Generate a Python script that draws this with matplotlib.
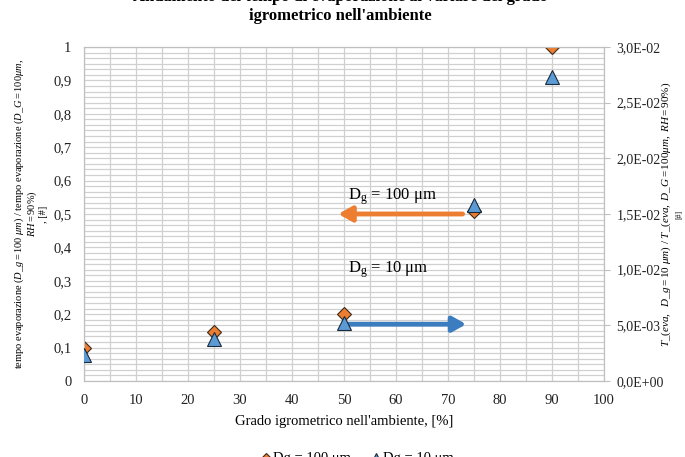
import matplotlib
matplotlib.use("Agg")
import matplotlib.pyplot as plt
from matplotlib.ticker import MultipleLocator, FuncFormatter
import numpy as np

plt.rcParams['font.family'] = ['Liberation Serif', 'DejaVu Serif']
plt.rcParams['mathtext.fontset'] = 'custom'
plt.rcParams['mathtext.rm'] = 'Liberation Serif'
plt.rcParams['mathtext.it'] = 'Liberation Serif:italic'

# data
rh = [0, 25, 50, 75, 90]
ratio_100 = [0.10, 0.147, 0.20, 0.51, 1.0]             # left axis
ratio_10 = [0.0023, 0.0038, 0.00525, 0.0158, 0.0273]   # right axis

orange = '#ED7D31'
blue = '#5B9BD5'
grid_c = '#d0d0d0'

fig = plt.figure(figsize=(6.85, 4.57), dpi=100)
ax = fig.add_axes([0.1226, 0.1663, 0.7592, 0.7309])
ax2 = ax.twinx()

ax.plot(rh, ratio_100, 'D', ms=7.5, color=orange, mec='#3a2a1a', mew=0.8,
        label='Dg = 100 μm', zorder=3)
ax2.plot(rh, ratio_10, '^', ms=10, color=blue, mec='#1a2a3a', mew=0.8,
         label='Dg = 10 μm', zorder=3)

ax.set_xlim(0, 100)
ax.set_ylim(0, 1)
ax2.set_ylim(0, 0.03)

ax.xaxis.set_major_locator(MultipleLocator(10))
ax.xaxis.set_minor_locator(MultipleLocator(5))
ax.yaxis.set_major_locator(MultipleLocator(0.1))
ax.yaxis.set_minor_locator(MultipleLocator(1 / 60))
ax2.yaxis.set_major_locator(MultipleLocator(0.005))

ax.grid(True, which='both', color=grid_c, lw=0.9)
ax.set_axisbelow(True)

ax.yaxis.set_major_formatter(FuncFormatter(lambda v, p: f"{v:g}".replace('.', ',')))
ax2.yaxis.set_major_formatter(FuncFormatter(lambda v, p: f"{v:.1E}".replace('.', ',')))

for a in (ax, ax2):
    for s in a.spines.values():
        s.set_color('#bfbfbf')
    a.tick_params(which='major', labelsize=10.5, color='#bfbfbf', length=4,
                  colors='#222222')
    a.tick_params(which='minor', length=0)
ax.tick_params(axis='x', length=0, pad=9)
ax.tick_params(axis='y', length=0, pad=9)
ax2.tick_params(axis='y', pad=5, labelsize=10)

ax.set_xlabel("Grado igrometrico nell'ambiente, [%]", fontsize=10.5, labelpad=6)
ax.set_ylabel(r"tempo evaporazione ($\mathit{D\_g{=}100\ \mu m}$) / tempo evaporazione ($\mathit{D\_G{=}100\mu m,}$" "\n"
              r"$\mathit{RH{=}90\%)}$" "\n" ", [#]",
              fontsize=7.5, linespacing=1.0)
ax.yaxis.set_label_coords(-0.069, 0.5)
ax2.set_ylabel(r"$\mathit{T\_(eva,\ \ D\_g{=}10\ \mu m)\ /\ T\_(eva,\ D\_G{=}100\mu m,\ RH{=}90\%)}$",
               fontsize=8)
ax2.yaxis.set_label_coords(1.107, 0.5)
ax2.text(1.145, 0.5, "[#]", transform=ax2.transAxes, rotation=90, fontsize=5.5,
         ha='center', va='center')

# annotations
ax.annotate('', xy=(48.9, 0.50), xytext=(72.8, 0.50),
            arrowprops=dict(arrowstyle='-|>,head_length=0.8,head_width=0.45',
                            color=orange, lw=3.5, shrinkA=0, shrinkB=0))
ax.annotate('', xy=(73.5, 0.17), xytext=(50.5, 0.17),
            arrowprops=dict(arrowstyle='-|>,head_length=0.8,head_width=0.45',
                            color='#3C7DC0', lw=3.5, shrinkA=0, shrinkB=0))
ax.text(50.8, 0.551, r"D$_\mathrm{g}$ = 100 μm", fontsize=12, va='center')
ax.text(50.8, 0.332, r"D$_\mathrm{g}$ = 10 μm", fontsize=12, va='center')

# title: first line is clipped by the top edge in the original
fig.text(0.497, 1 - 1 / 457, "Andamento del tempo di evaporazione al variare del grado",
         ha='center', va='baseline', fontsize=12, fontweight='bold')
fig.text(0.497, 1 - 20 / 457, "igrometrico nell'ambiente",
         ha='center', va='baseline', fontsize=12, fontweight='bold')

h1, l1 = ax.get_legend_handles_labels()
h2, l2 = ax2.get_legend_handles_labels()
fig.legend(h1 + h2, l1 + l2, loc='center', bbox_to_anchor=(0.52, -0.003), ncol=2,
           frameon=False, fontsize=10.5, handletextpad=0.0, columnspacing=1.2,
           markerscale=0.6, handlelength=1.0)

fig.savefig('out.png', dpi=100)
